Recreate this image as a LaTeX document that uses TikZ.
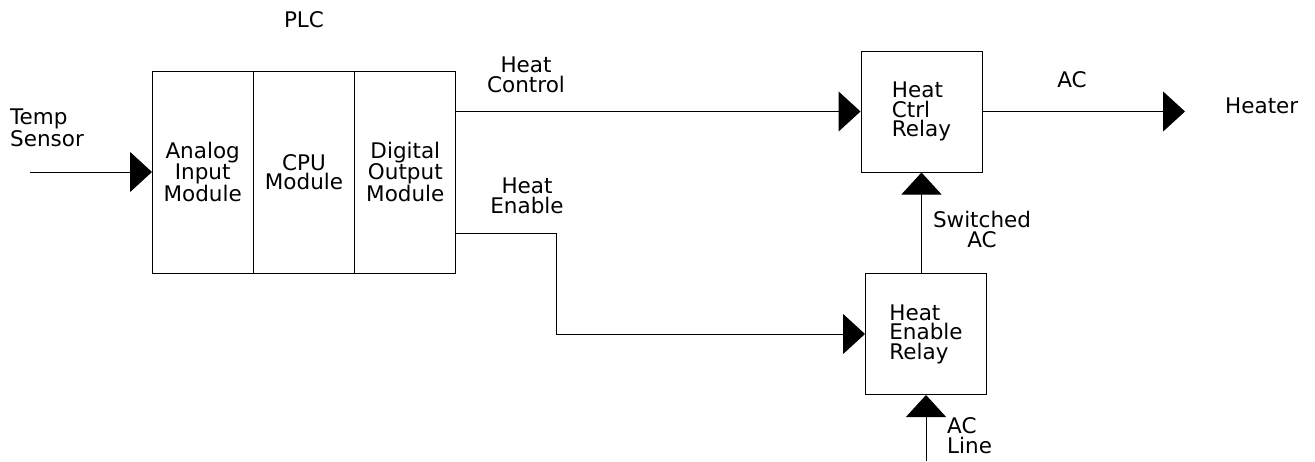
\documentclass[tikz,border=0pt]{standalone}
\usepackage{fontspec}
\setmainfont{DejaVu Sans}
\usetikzlibrary{arrows.meta,positioning}

\newcommand{\lblfont}{\fontsize{21.5}{19.5}\selectfont}

\begin{document}
\begin{tikzpicture}[x=1pt,y=-1pt,
%defines
module/.style={rectangle,draw,line width=1pt,inner sep=0pt,outer sep=0pt,
minimum width=101.33pt,minimum height=202pt,align=center,font=\lblfont},
relay/.style={rectangle,draw,line width=1pt,inner sep=0pt,
minimum size=121pt,align=left,font=\lblfont},
lbl/.style={inner sep=0pt,font=\lblfont},
sig/.style={line width=1pt,-{Triangle[length=22pt,width=40pt]}}]
\useasboundingbox (0,0) rectangle (1315,461);
%nodes
\node[module] (analog)  at (202.67,172)       {Analog\\Input\\Module};
\node[module] (cpu)     [right=0pt of analog] {CPU\\Module};
\node[module] (digital) [right=0pt of cpu]    {Digital\\Output\\Module};
\node[lbl]    (plc)     [above=43pt of cpu]   {PLC};
\node[relay]  (ctrl)    at (921.5,111.5)      {Heat\\Ctrl\\Relay};
\node[relay]  (enable)  at (926,334)          {Heat\\Enable\\Relay};
\node[lbl,align=left,anchor=base west]  (temp)   at (10,146)   {Temp\\Sensor};
\node[lbl,align=center,anchor=base]     (hctl)   at (526,92)   {Heat\\Control};
\node[lbl,align=center,anchor=base]     (hen)    at (527,213)  {Heat\\Enable};
\node[lbl,align=center,anchor=base]     (sw)     at (982,247)  {Switched\\AC};
\node[lbl,anchor=base]                  (ac)     at (1072,87)  {AC};
\node[lbl,anchor=base west]             (heater) at (1225,113) {Heater};
\node[lbl,align=left,anchor=base west]  (acl)    at (947,453)  {AC\\Line};
\coordinate (tempin) at ([xshift=-122pt]analog.west);
\coordinate (enout)  at ([yshift=40pt]digital.south east);
\coordinate (heatin) at (1185,111.5);
\coordinate (acsrc)  at (926,461);
%links
\draw [sig] (tempin) -- (analog.west);
\draw [sig] (digital.east |- ctrl.west) -- (ctrl.west);
\draw [sig] (enout) -- ++(100,0) |- (enable.west);
\draw [sig] (ctrl.south |- enable.north) -- (ctrl.south);
\draw [sig] (ctrl.east) -- (heatin);
\draw [sig] (acsrc) -- (enable.south);
\end{tikzpicture}
\end{document}
